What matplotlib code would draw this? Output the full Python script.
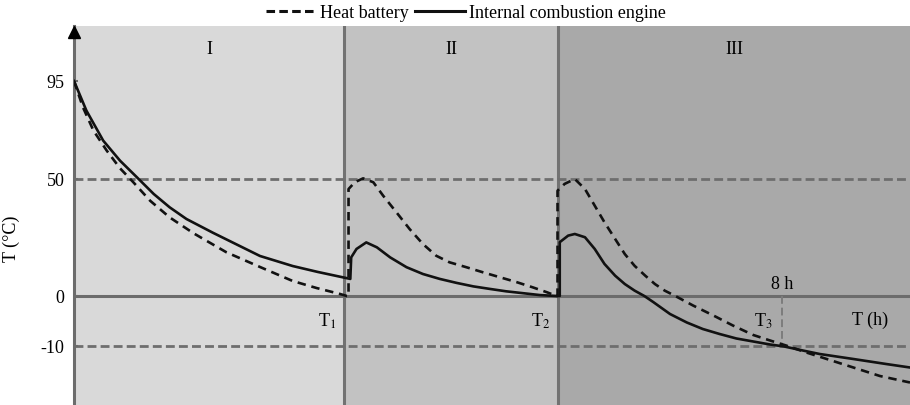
import numpy as np
import matplotlib
matplotlib.use("Agg")
import matplotlib.pyplot as plt
from matplotlib.lines import Line2D

plt.rcParams['font.family'] = ['Liberation Serif', 'DejaVu Serif']
plt.rcParams['mathtext.fontset'] = 'stix'
plt.rcParams['font.size'] = 13

# time (h) and temperature (°C)
t_battery = [0, 0.1, 0.22, 0.37, 0.52, 0.67, 0.86, 1.08, 1.35, 1.72, 2.10, 2.47, 2.74, 3.0, 3.08,
             3.10, 3.10, 3.17, 3.265, 3.38, 3.49, 3.64, 3.79, 3.94, 4.09, 4.24, 4.43, 4.62,
             4.81, 5.0, 5.18, 5.34, 5.45,
             5.46, 5.46, 5.54, 5.655, 5.77, 5.88, 5.99, 6.11, 6.22, 6.33, 6.45, 6.56, 6.67,
             6.78, 6.99, 7.22, 7.44, 7.67, 7.86, 8.04, 8.27, 8.5, 8.8, 9.1, 9.44]
v_battery = [95, 83, 72.2, 63, 54.9, 48.6, 40.7, 33.6, 26.8, 18.7, 12.4, 6.4, 3.4, 0.9, 0,
             0, 45.7, 48.6, 50.3, 48.6, 42.9, 35.8, 28.6, 22.2, 17.2, 14.4, 12.3, 10.1,
             8.0, 5.9, 3.7, 1.6, 0,
             0, 45, 47.9, 50, 45.7, 38.6, 31.5, 24.4, 17.9, 12.9, 8.7, 5.1, 2.3,
             0.2, -1.9, -3.9, -5.9, -7.8, -8.9, -9.9, -11.3, -12.6, -14.3, -16, -17.3]

t_engine = [0, 0.14, 0.33, 0.52, 0.71, 0.9, 1.08, 1.27, 1.57, 2.10, 2.47, 2.75, 3.12,
            3.13, 3.19, 3.30, 3.42, 3.57, 3.755, 3.94, 4.13, 4.32, 4.51, 4.70, 4.88, 5.07,
            5.26, 5.45,
            5.485, 5.485, 5.58, 5.655, 5.77, 5.88, 5.99, 6.11, 6.22, 6.33, 6.44, 6.54, 6.73,
            6.92, 7.10, 7.29, 7.48, 7.67, 7.86, 8.02, 8.23, 8.42, 8.8, 9.17, 9.44]
v_engine = [95, 81.4, 67.6, 58.4, 50.8, 43.6, 37.9, 32.9, 27.0, 17.1, 12.8, 10.3, 7.3,
            16.5, 20.1, 22.9, 20.8, 16.5, 12.3, 9.4, 7.3, 5.6, 4.1, 3.0, 2.0, 1.2,
            0.4, 0,
            0, 23, 25.8, 26.5, 25.1, 20.1, 13.7, 8.7, 5.1, 2.3, 0, -1.2, -3.6,
            -5.3, -6.6, -7.6, -8.5, -9.1, -9.7, -10.1, -10.9, -11.6, -12.6, -13.6, -14.3]

T1, T2, T3 = 3.05, 5.47, 8.0
x_max = 9.44
y_ticks = [95, 50, 0, -10]
phases = ["I", "II", "III"]

# the original axis is schematic: piecewise linear between the labelled values
scale_v = [-40, -10, 0, 50, 95, 150]
scale_p = [-497, -347, -297, -180, -82, 38]


def fwd(v):
    return np.interp(v, scale_v, scale_p)


def inv(p):
    return np.interp(p, scale_p, scale_v)


fig = plt.figure(figsize=(9.1, 4.06), dpi=100)
ax = fig.add_axes([74 / 910, 0, 836 / 910, 379 / 406])
ax.set_yscale('function', functions=(fwd, inv))
ax.set_xlim(0, x_max)
ax.set_ylim(-21.8, 120.2)

ax.axvspan(0, T1, color='#d9d9d9', lw=0, zorder=0)
ax.axvspan(T1, T2, color='#c2c2c2', lw=0, zorder=0)
ax.axvspan(T2, x_max, color='#a9a9a9', lw=0, zorder=0)

ax.axvline(T1, color='#727272', lw=2.2, zorder=1)
ax.axvline(T2, color='#727272', lw=2.2, zorder=1)
ax.axhline(0, color='#6c6c6c', lw=2.2, zorder=1)
for yv in [50, -10]:
    ax.axhline(yv, color='#6e6e6e', lw=2.0, dashes=(3.2, 1.5), zorder=1)
ax.plot([T3, T3], [0, -10], color='#7c7c7c', lw=1.4, dashes=(4, 2), zorder=1)

ax.plot(t_battery, v_battery, color='#111111', lw=1.9, dashes=(3.2, 2.2), zorder=3,
        dash_joinstyle='round')
ax.plot(t_engine, v_engine, color='#111111', lw=1.9, zorder=3, solid_joinstyle='round')

for i, name in enumerate(phases):
    lo = [0, T1, T2][i]
    hi = [T1, T2, x_max][i]
    ax.text((lo + hi) / 2, 110, name, ha='center', va='center', fontsize=13)

ax.text(T1 - 0.09, -3, 'T$_1$', ha='right', va='top', fontsize=13)
ax.text(T2 - 0.09, -3, 'T$_2$', ha='right', va='top', fontsize=13)
ax.text(T3 - 0.11, -3, 'T$_3$', ha='right', va='top', fontsize=13)
ax.text(T3, 1.5, '8 h', ha='center', va='bottom', fontsize=13)
ax.text(8.99, -3, 'T (h)', ha='center', va='top', fontsize=13)

for s in ['top', 'right', 'bottom']:
    ax.spines[s].set_visible(False)
ax.spines['left'].set_color('#6c6c6c')
ax.spines['left'].set_linewidth(2.2)
ax.set_xticks([])
ax.set_yticks(y_ticks)
ax.set_yticklabels([str(v) for v in y_ticks])
ax.tick_params(axis='y', direction='in', length=3, width=1.5, color='#6c6c6c', pad=7,
               labelsize=13)
# arrow head on top of the vertical axis
ax.plot(0, 0.984, marker='^', color='black', markersize=8, clip_on=False,
        transform=ax.get_xaxis_transform(), zorder=5)

ax.set_ylabel('T (°C)', fontsize=13)
ax.yaxis.set_label_coords(-0.064, 0.44)

handles = [Line2D([], [], color='#111111', lw=2.2, dashes=(2.8, 1.4)),
           Line2D([], [], color='#111111', lw=2.2)]
fig.legend(handles, ['Heat battery', 'Internal combustion engine'], loc='center',
           bbox_to_anchor=(466 / 910, 1 - 14 / 406), ncol=2, frameon=False,
           handlelength=2.8, handletextpad=0.2, columnspacing=0.3, fontsize=13,
           borderaxespad=0, borderpad=0)

fig.savefig('out.png', dpi=100)
